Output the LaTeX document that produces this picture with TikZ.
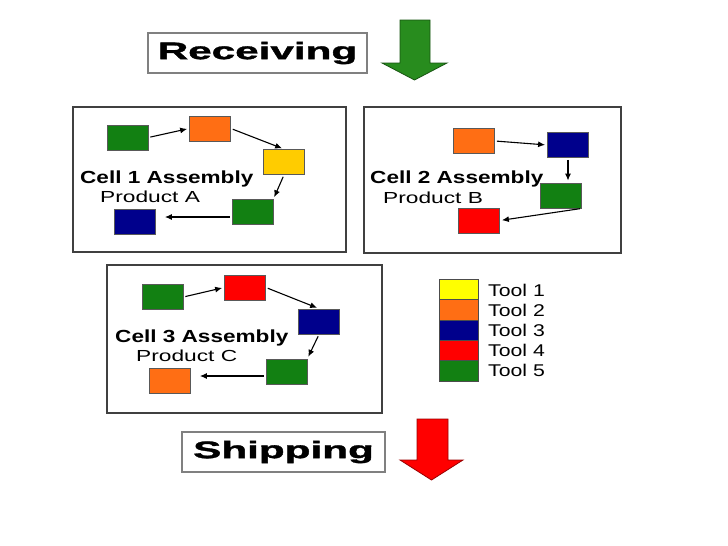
\documentclass[tikz,border=0pt]{standalone}
\usepackage{fontspec}
\setmainfont{Liberation Sans}
\newfontfamily\heavyfont[FakeBold=1.2]{Liberation Sans Bold}
\usepackage{xcolor}
\usepackage{tikz}
\usetikzlibrary{arrows.meta, positioning}

\definecolor{toolgreen}{RGB}{18,128,18}
\definecolor{toolorange}{RGB}{255,110,20}
\definecolor{toolyellow}{RGB}{255,255,0}
\definecolor{cellyellow}{RGB}{255,204,0}
\definecolor{toolblue}{RGB}{0,0,140}
\definecolor{toolred}{RGB}{255,0,0}
\definecolor{arrowgreen}{RGB}{40,140,30}

\newcommand{\wide}[2]{\scalebox{#1}[1]{#2}}

\begin{document}
\begin{tikzpicture}[x=1pt, y=-1pt,
  tool/.style={draw=black!65, line width=0.8pt, minimum width=41pt, minimum height=25pt, inner sep=0pt},
  flow/.style={-{Latex[length=7pt, width=6pt]}, line width=1.1pt, shorten >=2pt, shorten <=2pt},
  cellbox/.style={draw=black!75, line width=1.3pt},
  banner/.style={draw=gray, line width=1.6pt, fill=white, minimum height=40pt, inner sep=0pt, font=\fontsize{24}{28}\selectfont\heavyfont},
  celltitle/.style={anchor=base west, inner sep=0pt, font=\fontsize{17.5}{20}\selectfont\bfseries},
  product/.style={anchor=base west, inner sep=0pt, font=\fontsize{16}{19}\selectfont},
  keybox/.style={draw=black!70, line width=0.8pt, minimum width=39pt, minimum height=20.4pt, inner sep=0pt},
  keylabel/.style={anchor=base west, inner sep=0pt, font=\fontsize{17}{20}\selectfont}
]
\useasboundingbox (0,0) rectangle (728,546);

% receiving
\node[banner, minimum width=219pt] (recv) at (257.5,53) {\wide{1.76}{Receiving}};
\filldraw[fill=arrowgreen, draw=arrowgreen!60!black, line width=0.8pt] (400,20) -- (430,20) -- (430,63) -- (447,63) -- (414.5,80) -- (382,63) -- (400,63) -- cycle;

% cell 1
\draw[cellbox] (73,107) rectangle (346,252);
\node[tool, fill=toolgreen] (a1) at (127.5,137.5) {};
\node[tool, fill=toolorange] (a2) at (210,128.5) {};
\node[tool, fill=cellyellow] (a3) at (284,162) {};
\node[tool, fill=toolgreen] (a4) at (252.5,212) {};
\node[tool, fill=toolblue] (a5) at (135,221.5) {};
\node[celltitle] (t1) at (80,183) {\wide{1.29}{Cell 1 Assembly}};
\node[product] (p1) at (100,202) {\wide{1.42}{Product A}};
\draw[flow] (a1.east) -- (a2.west);
\draw[flow] (a2.east) -- (a3.north);
\draw[flow] (a3.south) -- (a4.north east);
\draw[flow, shorten >=9pt] ([yshift=-5pt]a4.west) -- ([yshift=-5pt]a4.west -| a5.east);

% cell 2
\draw[cellbox] (364,107) rectangle (621,253);
\node[tool, fill=toolorange] (b1) at (474,141) {};
\node[tool, fill=toolblue] (b2) at (568,145) {};
\node[tool, fill=toolgreen] (b3) at (561,195.5) {};
\node[tool, fill=toolred] (b4) at (479,220.5) {};
\node[celltitle] (t2) at (370,183) {\wide{1.29}{Cell 2 Assembly}};
\node[product] (p2) at (383,203) {\wide{1.42}{Product B}};
\draw[flow] (b1.east) -- (b2.west);
\draw[flow] (b2.south) -- (b2.south |- b3.north);
\draw[flow] (b3.south east) -- (b4.east);

% cell 3
\draw[cellbox] (107,265) rectangle (382,413);
\node[tool, fill=toolgreen] (c1) at (162.5,297) {};
\node[tool, fill=toolred] (c2) at (245,287.5) {};
\node[tool, fill=toolblue] (c3) at (319,321.5) {};
\node[tool, fill=toolgreen] (c4) at (286.5,371.5) {};
\node[tool, fill=toolorange] (c5) at (170,381) {};
\node[celltitle] (t3) at (115,342) {\wide{1.29}{Cell 3 Assembly}};
\node[product] (p3) at (136,361) {\wide{1.42}{Product C}};
\draw[flow] (c1.east) -- (c2.west);
\draw[flow] (c2.east) -- (c3.north);
\draw[flow] (c3.south) -- (c4.north east);
\draw[flow, shorten >=9pt] ([yshift=-4.5pt]c4.west) -- ([yshift=-4.5pt]c4.west -| c5.east);

% legend
\foreach \col/\name [count=\i] in {toolyellow/Tool 1, toolorange/Tool 2, toolblue/Tool 3, toolred/Tool 4, toolgreen/Tool 5} {
  \node[keybox, fill=\col] (key\i) at (458.5,269+20.4*\i) {};
  \node[keylabel] (lab\i) at (488,276+20*\i) {\wide{1.25}{\name}};
}

% shipping
\node[banner, minimum width=203pt] (ship) at (283.5,452) {\wide{1.76}{Shipping}};
\filldraw[fill=toolred, draw=toolred!60!black, line width=0.8pt] (417,419) -- (448,419) -- (448,460) -- (463,460) -- (431.5,480) -- (400,460) -- (417,460) -- cycle;
\end{tikzpicture}
\end{document}
